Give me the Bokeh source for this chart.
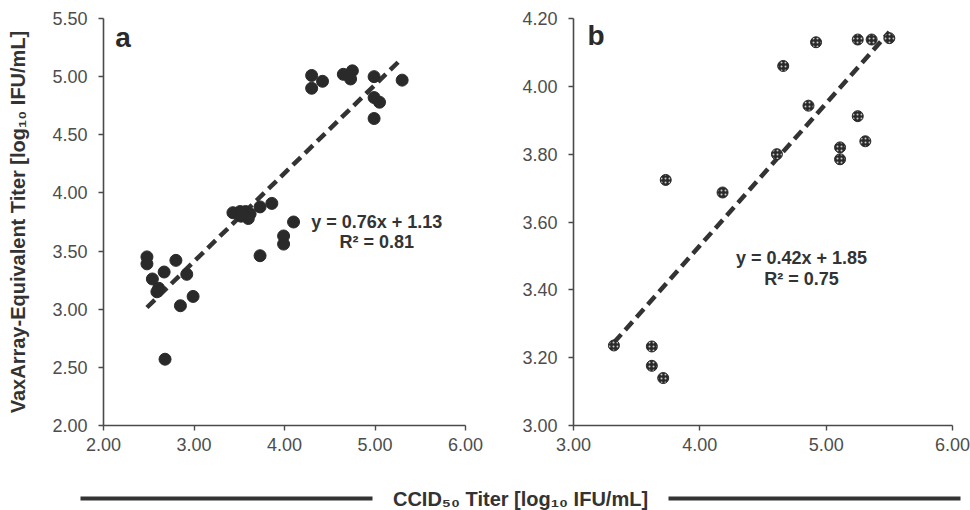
from bokeh.plotting import figure
from bokeh.layouts import column, row
from bokeh.models import Range1d, FixedTicker, NumeralTickFormatter
from bokeh.core.properties import value
from bokeh.embed import file_html
from bokeh.resources import INLINE

# ---------------- data ----------------
a_x = [4.30, 4.42, 4.30, 4.65, 4.75, 4.73, 4.99, 5.30, 4.99, 5.05, 4.99,
       3.43, 3.51, 3.57, 3.62, 3.60, 3.52, 3.73, 3.86, 4.10, 3.99, 3.99, 3.73,
       2.48, 2.48, 2.80, 2.67, 2.54, 2.61, 2.59, 2.92, 2.99, 2.85, 2.68]
a_y = [5.01, 4.96, 4.90, 5.02, 5.05, 4.98, 5.00, 4.97, 4.82, 4.78, 4.64,
       3.83, 3.84, 3.84, 3.82, 3.78, 3.80, 3.88, 3.91, 3.75, 3.63, 3.56, 3.46,
       3.45, 3.39, 3.42, 3.32, 3.26, 3.18, 3.15, 3.30, 3.11, 3.03, 2.57]

b_x = [4.92, 5.25, 5.36, 5.50, 4.66, 4.86, 5.25, 4.61, 5.11, 5.11, 5.31,
       3.73, 4.18, 3.32, 3.62, 3.62, 3.71]
b_y = [4.130, 4.138, 4.138, 4.142, 4.060, 3.943, 3.912, 3.800, 3.820, 3.785, 3.838,
       3.724, 3.687, 3.236, 3.233, 3.176, 3.140]

a_slope, a_intercept, a_r2 = 0.76, 1.13, 0.81
b_slope, b_intercept, b_r2 = 0.42, 1.85, 0.75

a_xticks = [2.0, 3.0, 4.0, 5.0, 6.0]
a_yticks = [2.0, 2.5, 3.0, 3.5, 4.0, 4.5, 5.0, 5.5]
b_xticks = [3.0, 4.0, 5.0, 6.0]
b_yticks = [3.0, 3.2, 3.4, 3.6, 3.8, 4.0, 4.2]

y_label = "VaxArray-Equivalent Titer [log\u2081\u2080 IFU/mL]"
x_label = "CCID\u2085\u2080 Titer [log\u2081\u2080 IFU/mL]"

DARK = "#2a2a2a"
AXIS = "#4a4a4a"
TICKTXT = "#4d4d4d"
FONT = "Liberation Sans"


def style(p, xticks, yticks):
    p.grid.visible = False
    p.outline_line_color = None
    p.background_fill_color = "white"
    p.border_fill_color = "white"
    for ax, ticks in ((p.xaxis, xticks), (p.yaxis, yticks)):
        ax.ticker = FixedTicker(ticks=ticks)
        ax.formatter = NumeralTickFormatter(format="0.00")
        ax.axis_line_color = AXIS
        ax.axis_line_width = 1.6
        ax.major_tick_line_color = AXIS
        ax.major_tick_line_width = 1.4
        ax.major_tick_out = 5
        ax.major_tick_in = 0
        ax.minor_tick_line_color = None
        ax.major_label_text_font = FONT
        ax.major_label_text_font_size = "18px"
        ax.major_label_text_color = TICKTXT
    p.xaxis.major_label_standoff = 7
    p.yaxis.major_label_standoff = 11


# ---------------- panel a ----------------
p1 = figure(width=491, height=460, x_range=Range1d(2.0, 6.0), y_range=Range1d(2.0, 5.5),
            output_backend="svg", toolbar_location=None,
            min_border_left=103, min_border_right=26, min_border_top=18, min_border_bottom=33)
style(p1, a_xticks, a_yticks)
p1.yaxis.axis_label = y_label
p1.yaxis.axis_label_text_font = FONT
p1.yaxis.axis_label_text_font_style = "bold"
p1.yaxis.axis_label_text_font_size = "20px"
p1.yaxis.axis_label_text_color = "#333333"
p1.yaxis.axis_label_standoff = 20

ax0, ax1 = min(a_x), max(a_x)
p1.line([ax0, ax1], [a_slope * ax0 + a_intercept, a_slope * ax1 + a_intercept],
        line_color="#333333", line_width=4.5, line_dash="11 6")
p1.scatter(a_x, a_y, size=12, fill_color=DARK, line_color=DARK)
p1.text(x=[5.02], y=[3.746], text=[f"y = {a_slope:.2f}x + {a_intercept:.2f}"],
        text_align="center", text_baseline="middle", text_font=value(FONT),
        text_font_style="bold", text_font_size="18px", text_color="#333333")
p1.text(x=[5.02], y=[3.575], text=[f"R\u00b2 = {a_r2:.2f}"],
        text_align="center", text_baseline="middle", text_font=value(FONT),
        text_font_style="bold", text_font_size="18px", text_color="#333333")
p1.text(x=[2.13], y=[5.337], text=["a"], text_align="left", text_baseline="alphabetic",
        text_font=value(FONT), text_font_style="bold", text_font_size="28px", text_color="#2a2a2a")

# ---------------- panel b ----------------
p2 = figure(width=479, height=460, x_range=Range1d(3.0, 6.0), y_range=Range1d(3.0, 4.2),
            output_backend="svg", toolbar_location=None,
            min_border_left=82, min_border_right=18, min_border_top=18, min_border_bottom=35)
style(p2, b_xticks, b_yticks)

bx0, bx1 = min(b_x), max(b_x)
p2.line([bx0, bx1], [b_slope * bx0 + b_intercept, b_slope * bx1 + b_intercept],
        line_color="#333333", line_width=4.5, line_dash="11 6")
p2.scatter(b_x, b_y, size=11, fill_color=DARK, line_color=DARK,
           hatch_pattern="dot", hatch_color="#c8c8c8", hatch_scale=4, hatch_weight=1)
p2.text(x=[4.805], y=[3.494], text=[f"y = {b_slope:.2f}x + {b_intercept:.2f}"],
        text_align="center", text_baseline="middle", text_font=value(FONT),
        text_font_style="bold", text_font_size="18px", text_color="#333333")
p2.text(x=[4.805], y=[3.432], text=[f"R\u00b2 = {b_r2:.2f}"],
        text_align="center", text_baseline="middle", text_font=value(FONT),
        text_font_style="bold", text_font_size="18px", text_color="#333333")
p2.text(x=[3.11], y=[4.15], text=["b"], text_align="left", text_baseline="alphabetic",
        text_font=value(FONT), text_font_style="bold", text_font_size="28px", text_color="#2a2a2a")

# ---------------- shared x label ----------------
p3 = figure(width=970, height=50, x_range=Range1d(0, 970), y_range=Range1d(50, 0),
            output_backend="svg", toolbar_location=None, x_axis_type=None, y_axis_type=None,
            min_border=0)
p3.grid.visible = False
p3.outline_line_color = None
p3.segment(x0=[80, 668], y0=[38, 38], x1=[372, 960], y1=[38, 38],
           line_color="#333333", line_width=4)
p3.text(x=[520], y=[38], text=[x_label], text_align="center", text_baseline="middle",
        text_font=value(FONT), text_font_style="bold",
        text_font_size="20px", text_color="#333333")

layout = column(row(p1, p2), p3)
open("out.html", "w").write(file_html(layout, INLINE))
